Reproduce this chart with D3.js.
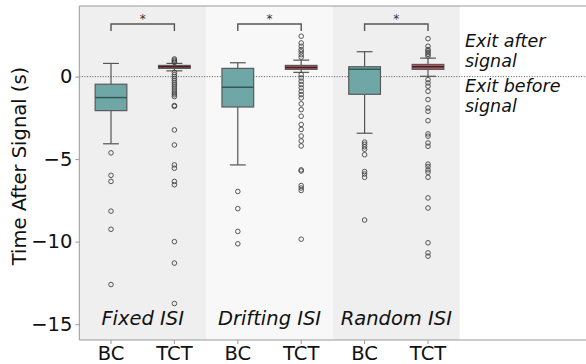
<!DOCTYPE html>
<html><head><meta charset="utf-8">
<script src="https://cdn.jsdelivr.net/npm/d3@7"></script>
<style>body{margin:0;background:#fff}svg{display:block}text{font-family:"DejaVu Sans",sans-serif}</style>
</head><body><svg id="c" width="586" height="364"></svg>
<script>
const groups = ["Fixed ISI", "Drifting ISI", "Random ISI"];
const conditions = ["BC", "TCT"];
const yTicks = [0, -5, -10, -15];
// five-number boxes: [lower whisker, q1, median, q3, upper whisker], order: group x condition
const boxStats = [
  [-4.07, -2.06, -1.27, -0.46, 0.80],
  [0.35, 0.50, 0.60, 0.68, 0.80],
  [-5.35, -1.84, -0.64, 0.50, 0.84],
  [0.26, 0.44, 0.56, 0.68, 1.00],
  [-3.43, -1.07, 0.44, 0.60, 1.51],
  [0.02, 0.44, 0.60, 0.74, 1.12]
];
const outliers = [
  [-4.62, -5.98, -6.35, -8.15, -9.25, -12.6],
  [1.07, 1.0, 0.93, 0.86, 0.25, 0.12, 0.0, -0.12, -0.25, -0.38, -0.5, -0.62, -0.75, -0.88, -1.0, -1.1, -1.21, -1.75, -1.8, -3.23, -4.14, -5.35, -5.55, -6.35, -6.55, -10.0, -11.3, -13.75],
  [-6.96, -8.0, -9.38, -10.13],
  [2.45, 2.04, 1.84, 1.64, 1.5, 1.33, 1.18, 0.12, -0.08, -0.28, -0.48, -0.68, -0.89, -1.09, -1.29, -1.65, -2.0, -2.4, -2.9, -3.2, -3.6, -3.9, -4.2, -5.65, -5.72, -6.6, -6.75, -6.9, -9.85],
  [-3.97, -4.1, -4.25, -4.4, -4.73, -5.75, -5.9, -6.1, -8.69],
  [2.3, 1.84, 1.64, 1.55, 1.45, 1.35, 1.25, -0.18, -0.38, -0.58, -0.89, -1.39, -1.9, -2.1, -2.67, -3.47, -3.61, -4.02, -4.22, -5.3, -5.45, -5.65, -5.8, -6.1, -7.35, -7.96, -10.07, -10.68, -10.88]
];
const sigLabel = "*";

const svg = d3.select("#c");
const L = 79.3, T = 6, B = 340, R = 586;
const FS = 19.5;
const slots = d3.range(groups.length * conditions.length);
const x = d3.scaleBand().domain(slots).range([L, 459.7]).padding(0);
const y = d3.scaleLinear().domain([-15.96, 4.28]).range([B, T]);
const bw = x.bandwidth();
const grpBg = ["#efefef", "#f8f8f8", "#efefef"];

// group backgrounds
groups.forEach((g, i) => {
  svg.append("rect").attr("x", x(i*2)).attr("y", T).attr("width", bw*2).attr("height", B - T).attr("fill", grpBg[i]);
});

// zero line
svg.append("line").attr("x1", L).attr("x2", R).attr("y1", y(0)).attr("y2", y(0))
  .attr("stroke", "#555").attr("stroke-width", 1).attr("stroke-dasharray", "1,1.6");

// boxes
const colors = {BC: "#6fa7a6", TCT: "#b05a5e"};
const medColors = {BC: "#2f5a59", TCT: "#4a1e22"};
slots.forEach(s => {
  const cond = conditions[s % 2];
  const [lo, q1, med, q3, hi] = boxStats[s];
  const cx = x(s) + bw/2;
  const half = bw * 0.25, cap = bw * 0.125;
  const g = svg.append("g");
  g.append("line").attr("x1", cx).attr("x2", cx).attr("y1", y(hi)).attr("y2", y(q3)).attr("stroke", "#555").attr("stroke-width", 1.2);
  g.append("line").attr("x1", cx).attr("x2", cx).attr("y1", y(q1)).attr("y2", y(lo)).attr("stroke", "#555").attr("stroke-width", 1.2);
  g.append("line").attr("x1", cx-cap).attr("x2", cx+cap).attr("y1", y(hi)).attr("y2", y(hi)).attr("stroke", "#555").attr("stroke-width", 1.2);
  g.append("line").attr("x1", cx-cap).attr("x2", cx+cap).attr("y1", y(lo)).attr("y2", y(lo)).attr("stroke", "#555").attr("stroke-width", 1.2);
  g.append("rect").attr("x", cx-half).attr("y", y(q3)).attr("width", half*2).attr("height", Math.max(1, y(q1)-y(q3)))
    .attr("fill", colors[cond]).attr("stroke", "#5a5a5a").attr("stroke-width", 1.2);
  g.append("line").attr("x1", cx-half).attr("x2", cx+half).attr("y1", y(med)).attr("y2", y(med)).attr("stroke", medColors[cond]).attr("stroke-width", 1.5);
  g.selectAll("circle").data(outliers[s]).join("circle")
    .attr("cx", cx).attr("cy", d => y(d)).attr("r", 2.3)
    .attr("fill", "none").attr("stroke", "#444").attr("stroke-width", 0.9);
});

// significance brackets and group labels
groups.forEach((gname, i) => {
  const x1 = x(i*2) + bw/2, x2 = x(i*2+1) + bw/2;
  const yb = 24, yd = 31;
  svg.append("path").attr("d", `M${x1},${yd}V${yb}H${x2}V${yd}`).attr("fill", "none").attr("stroke", "#555").attr("stroke-width", 1.4);
  svg.append("text").attr("x", (x1+x2)/2).attr("y", 23).attr("text-anchor", "middle").attr("font-size", 12).attr("fill", "#333").text(sigLabel);
  svg.append("text").attr("x", (x1+x2)/2).attr("y", 325).attr("text-anchor", "middle").attr("font-size", FS).attr("font-style", "italic").attr("fill", "#111").text(gname);
});

// spines
svg.append("line").attr("x1", L).attr("x2", R).attr("y1", T).attr("y2", T).attr("stroke", "#999").attr("stroke-width", 1);
svg.append("line").attr("x1", L).attr("x2", R).attr("y1", B).attr("y2", B).attr("stroke", "#999").attr("stroke-width", 1);
svg.append("line").attr("x1", L).attr("x2", L).attr("y1", T).attr("y2", B).attr("stroke", "#999").attr("stroke-width", 1);

// y axis
const yAxis = svg.append("g").attr("transform", `translate(${L},0)`)
  .call(d3.axisLeft(y).tickValues(yTicks).tickSize(4).tickPadding(3).tickFormat(d => d < 0 ? "\u2212" + Math.abs(d) : d));
yAxis.select(".domain").remove();
yAxis.selectAll("line").attr("stroke", "#999");
yAxis.selectAll("text").attr("font-size", FS).attr("fill", "#111").attr("font-family", "DejaVu Sans");

// x axis
const xAxis = svg.append("g").attr("transform", `translate(0,${B})`)
  .call(d3.axisBottom(x).tickSize(4).tickPadding(2).tickFormat(d => conditions[d % 2]));
xAxis.select(".domain").remove();
xAxis.selectAll("line").attr("stroke", "#999");
xAxis.selectAll("text").attr("font-size", FS).attr("fill", "#111").attr("font-family", "DejaVu Sans");

// y label
svg.append("text").attr("transform", "translate(26,166) rotate(-90)").attr("text-anchor", "middle")
  .attr("font-size", FS).attr("fill", "#111").text("Time After Signal (s)");

// annotations
const notes = [["Exit after", 47], ["signal", 67], ["Exit before", 92], ["signal", 112]];
notes.forEach(([t, yy]) => {
  svg.append("text").attr("x", 465).attr("y", yy).attr("font-size", 17.5).attr("font-style", "italic").attr("fill", "#111").text(t);
});
</script></body></html>
